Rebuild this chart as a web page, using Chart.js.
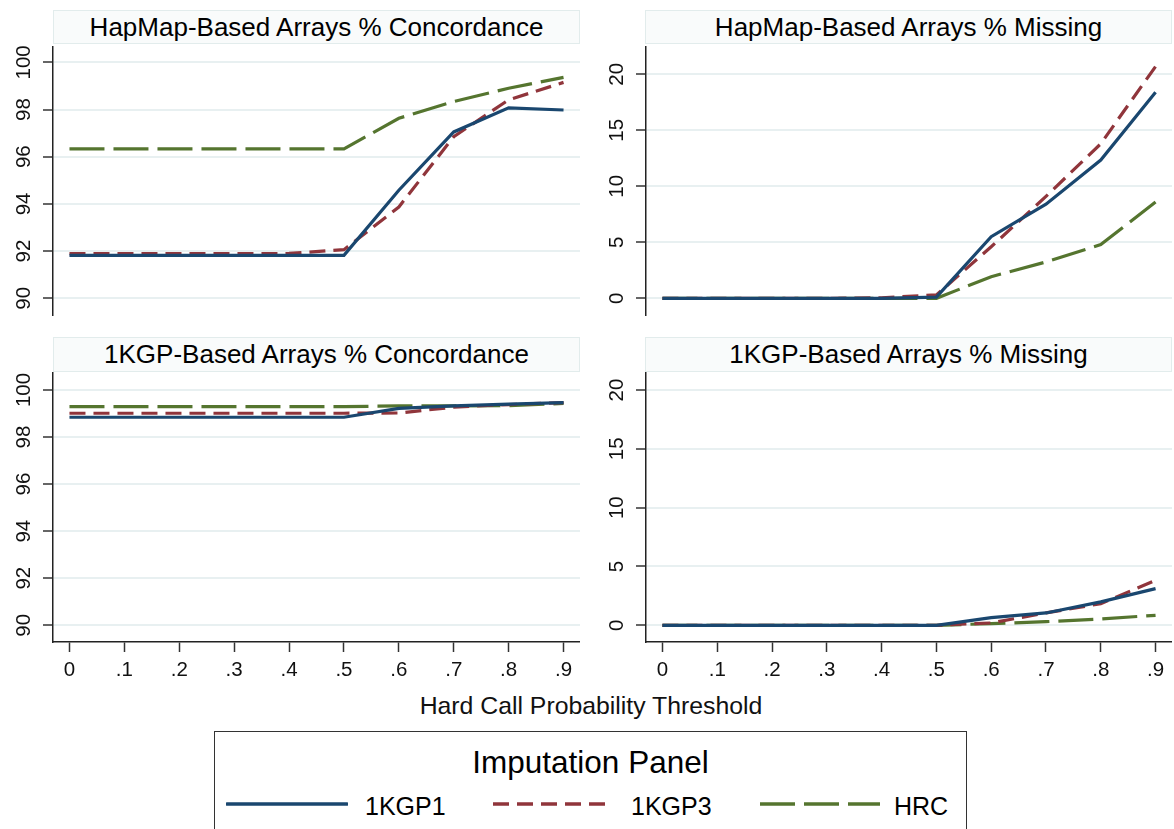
<!DOCTYPE html>
<html>
<head>
<meta charset="utf-8">
<script src="https://cdn.jsdelivr.net/npm/chart.js@4.4.1/dist/chart.umd.min.js"></script>
<style>
  html, body { margin:0; padding:0; background:#fff; }
  body { width:1174px; height:829px; position:relative; overflow:hidden; font-family:"Liberation Sans", Arial, sans-serif; color:#000; }
  canvas { position:absolute; }
  .ttl { position:absolute; box-sizing:border-box; background:#f9fbfb; border:1px solid #e2ecec; text-align:center; font-size:26px; line-height:32px; color:#000; white-space:nowrap; }
  #xtitle { position:absolute; left:341px; width:500px; top:692px; text-align:center; font-size:24.8px; line-height:28px; color:#111; }
  #legend { position:absolute; left:214px; top:731px; width:753px; height:120px; box-sizing:border-box; border:1.5px solid #333; background:#fff; }
  #legend .lt { position:absolute; left:0; width:100%; top:11px; text-align:center; font-size:31.5px; line-height:38px; color:#000; }
  #legend .it { position:absolute; top:59px; font-size:25px; line-height:30px; color:#000; }
  #legend svg { position:absolute; top:66px; }
</style>
</head>
<body>
<canvas id="c1" width="580" height="279" style="left:0px;top:37px;"></canvas>
<canvas id="c2" width="582" height="279" style="left:590px;top:37px;"></canvas>
<canvas id="c3" width="580" height="327" style="left:0px;top:363px;"></canvas>
<canvas id="c4" width="582" height="327" style="left:590px;top:363px;"></canvas>

<div class="ttl" style="left:53px;top:10px;width:527px;height:34px;">HapMap-Based Arrays % Concordance</div>
<div class="ttl" style="left:645px;top:10px;width:527px;height:34px;">HapMap-Based Arrays % Missing</div>
<div class="ttl" style="left:53px;top:337px;width:527px;height:35px;">1KGP-Based Arrays % Concordance</div>
<div class="ttl" style="left:645px;top:337px;width:527px;height:35px;">1KGP-Based Arrays % Missing</div>

<div id="xtitle">Hard Call Probability Threshold</div>

<div id="legend">
  <div class="lt">Imputation Panel</div>
  <svg style="left:11px" width="122" height="12"><line x1="1" y1="6" x2="121" y2="6" stroke="#1a476f" stroke-width="3.5" stroke-linecap="round"/></svg>
  <div class="it" style="left:150px">1KGP1</div>
  <svg style="left:277px" width="122" height="12"><line x1="1" y1="6" x2="121" y2="6" stroke="#90353b" stroke-width="3.5" stroke-dasharray="16 8"/></svg>
  <div class="it" style="left:416px">1KGP3</div>
  <svg style="left:544px" width="122" height="12"><line x1="1" y1="6" x2="121" y2="6" stroke="#55752f" stroke-width="3.5" stroke-dasharray="35 9"/></svg>
  <div class="it" style="left:679px">HRC</div>
</div>

<script>
// ---- data ----
const thresholds = [0, 0.1, 0.2, 0.3, 0.4, 0.5, 0.6, 0.7, 0.8, 0.9];
const xTickLabels = ['0', '.1', '.2', '.3', '.4', '.5', '.6', '.7', '.8', '.9'];
const seriesNames = ['1KGP1', '1KGP3', 'HRC'];

const concTicks = [90, 92, 94, 96, 98, 100];
const missTicks = [0, 5, 10, 15, 20];

const hapConc1KGP1 = [91.82, 91.82, 91.82, 91.82, 91.82, 91.82, 94.58, 97.05, 98.07, 97.98];
const hapConc1KGP3 = [91.89, 91.89, 91.89, 91.89, 91.90, 92.06, 93.87, 96.85, 98.41, 99.15];
const hapConcHRC   = [96.33, 96.33, 96.33, 96.33, 96.33, 96.33, 97.63, 98.34, 98.90, 99.36];

const hapMiss1KGP1 = [0, 0, 0, 0, 0, 0.10, 5.50, 8.40, 12.35, 18.40];
const hapMiss1KGP3 = [0, 0, 0, 0, 0.05, 0.30, 4.60, 9.10, 13.80, 20.70];
const hapMissHRC   = [0, 0, 0, 0, 0, 0, 1.93, 3.25, 4.80, 8.60];

const kgpConc1KGP1 = [98.84, 98.84, 98.84, 98.84, 98.84, 98.84, 99.22, 99.32, 99.40, 99.46];
const kgpConc1KGP3 = [99.01, 99.01, 99.01, 99.01, 99.01, 99.01, 99.02, 99.27, 99.38, 99.46];
const kgpConcHRC   = [99.29, 99.29, 99.29, 99.29, 99.29, 99.29, 99.32, 99.32, 99.33, 99.43];

const kgpMiss1KGP1 = [0, 0, 0, 0, 0, 0, 0.65, 1.05, 1.99, 3.12];
const kgpMiss1KGP3 = [0, 0, 0, 0, 0, 0, 0.20, 1.05, 1.84, 3.83];
const kgpMissHRC   = [0, 0, 0, 0, 0, 0, 0.14, 0.31, 0.54, 0.85];

// ---- styling ----
const COLORS = ['#1a476f', '#90353b', '#55752f'];
const DASHES = [[], [16, 8], [35, 9]];
const FONT = '"Liberation Sans", Arial, sans-serif';

const rotatedYLabels = {
  id: 'rotatedYLabels',
  afterDraw(chart) {
    const ys = chart.scales.y;
    const ctx = chart.ctx;
    const ax = chart.chartArea.left;
    ctx.save();
    ctx.fillStyle = '#111';
    ctx.font = '20.5px ' + FONT;
    ctx.textAlign = 'center';
    ctx.textBaseline = 'middle';
    ys.ticks.forEach(t => {
      const py = ys.getPixelForValue(t.value);
      ctx.save();
      ctx.translate(ax - 29, py);
      ctx.rotate(-Math.PI / 2);
      ctx.fillText(String(t.value), 0, 0);
      ctx.restore();
    });
    ctx.restore();
  }
};

function makePanel(id, seriesArr, yTicks, yMin, yMax, yWidth, showX) {
  const datasets = seriesArr.map((vals, i) => ({
    label: seriesNames[i],
    data: thresholds.map((t, k) => ({ x: t, y: vals[k] })),
    borderColor: COLORS[i],
    backgroundColor: COLORS[i],
    borderWidth: 3.2,
    borderDash: DASHES[i],
    pointRadius: 0,
    tension: 0,
    fill: false
  }));
  return new Chart(document.getElementById(id), {
    type: 'line',
    data: { datasets },
    plugins: [rotatedYLabels],
    options: {
      responsive: false,
      animation: false,
      devicePixelRatio: 1,
      layout: { padding: { top: 10, left: 0, right: 0, bottom: 0 } },
      plugins: { legend: { display: false }, tooltip: { enabled: false }, title: { display: false } },
      scales: {
        x: {
          type: 'linear',
          display: showX,
          min: -0.03, max: 0.93,
          afterBuildTicks: s => { s.ticks = thresholds.map(v => ({ value: v })); },
          afterFit: s => { s.height = showX ? 48 : 0; },
          ticks: {
            callback: (v) => { const k = thresholds.findIndex(t => Math.abs(t - v) < 1e-9); return k >= 0 ? xTickLabels[k] : ''; },
            font: { family: FONT, size: 20.5 },
            color: '#111',
            padding: 6,
            maxRotation: 0, minRotation: 0,
            autoSkip: false
          },
          grid: { drawOnChartArea: false, drawTicks: true, tickLength: 10, tickColor: '#333', tickWidth: 1.5 },
          border: { display: true, color: '#222', width: 1.5 }
        },
        y: {
          type: 'linear',
          min: yMin, max: yMax,
          afterBuildTicks: s => { s.ticks = yTicks.map(v => ({ value: v })); },
          afterFit: s => { s.width = yWidth; },
          ticks: { display: false },
          grid: { color: '#e8f0f1', lineWidth: 2, drawTicks: true, tickLength: 10, tickColor: '#333', tickWidth: 1.5 },
          border: { display: true, color: '#222', width: 1.5 }
        }
      }
    }
  });
}

makePanel('c1', [hapConc1KGP1, hapConc1KGP3, hapConcHRC], concTicks, 89.25, 100.65, 53, false);
makePanel('c2', [hapMiss1KGP1, hapMiss1KGP3, hapMissHRC], missTicks, -1.58, 22.44, 56, false);
makePanel('c3', [kgpConc1KGP1, kgpConc1KGP3, kgpConcHRC], concTicks, 89.29, 100.72, 53, true);
makePanel('c4', [kgpMiss1KGP1, kgpMiss1KGP3, kgpMissHRC], missTicks, -1.42, 21.45, 56, true);
</script>
</body>
</html>
